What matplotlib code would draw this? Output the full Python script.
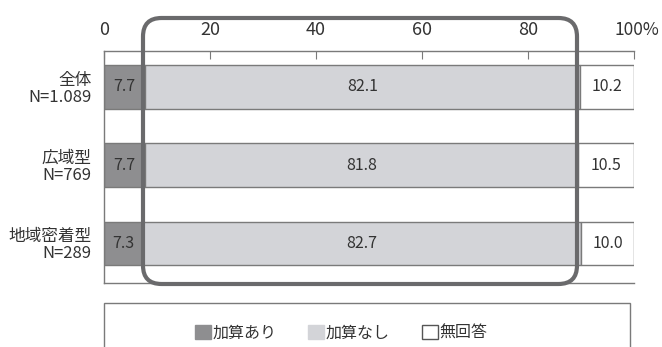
import matplotlib
matplotlib.use("Agg")
import matplotlib.pyplot as plt
import matplotlib.transforms as mtransforms
from matplotlib.patches import FancyBboxPatch, Rectangle, Patch

plt.rcParams['font.family'] = ['Noto Sans CJK JP', 'DejaVu Sans']

categories = ["全体\nN=1.089", "広域型\nN=769", "地域密着型\nN=289"]
series_names = ["加算あり", "加算なし", "無回答"]
with_add = [7.7, 7.7, 7.3]
without_add = [82.1, 81.8, 82.7]
no_answer = [10.2, 10.5, 10.0]
xticks = [0, 20, 40, 60, 80, 100]
xticklabels = ["0", "20", "40", "60", "80", "100%"]

colors = ["#8e8e90", "#d3d4d8", "#ffffff"]
edge = "#7a7a7a"
txt = "#333333"

W, H = 662, 347
fig = plt.figure(figsize=(W / 100, H / 100), dpi=100)
ax = fig.add_axes([104 / W, 1 - 283 / H, (634 - 104) / W, (283 - 51) / H])

ys = list(range(len(categories)))
h = 0.56
left = [0] * len(ys)
for vals, col in zip([with_add, without_add, no_answer], colors):
    ax.barh(ys, vals, left=left, height=h, color=col, edgecolor=edge, linewidth=1.0, zorder=2)
    for y, l, v in zip(ys, left, vals):
        ax.text(l + v / 2, y, f"{v:.1f}", ha="center", va="center", fontsize=11.5, color=txt, zorder=3)
    left = [a + b for a, b in zip(left, vals)]

ax.set_xlim(0, 100)
ax.set_ylim(2.505, -0.46)
ax.set_yticks(ys)
ax.set_yticklabels(categories, fontsize=12, color=txt, linespacing=1.0)
ax.tick_params(axis="y", length=0, pad=9)
for t in ax.get_yticklabels():
    t.set_ha("right")
ax.set_xticks(xticks)
ax.set_xticklabels(xticklabels[:-1] + [""], fontsize=13, color=txt)
ax.tick_params(axis="x", top=True, labeltop=True, bottom=False, labelbottom=False,
               direction="in", length=6, color=edge, pad=8.5)
# last tick label: shifted left so that it stays inside the figure
tr = mtransforms.offset_copy(ax.get_xaxis_transform(), fig=fig, x=-14, y=8.5, units="points")
ax.text(xticks[-1], 1, xticklabels[-1], transform=tr, ha="left", va="bottom",
        fontsize=12.5, color=txt, clip_on=False)
for s in ["top", "left", "bottom"]:
    ax.spines[s].set_color(edge)
    ax.spines[s].set_linewidth(1.0)
ax.spines["right"].set_visible(False)

# rounded highlight box
box = FancyBboxPatch((143 / W, 1 - 284 / H), (577 - 143) / W, (284 - 18) / H,
                     boxstyle="round,pad=0,rounding_size=0.028", transform=fig.transFigure,
                     fill=False, edgecolor="#6a6a6c", linewidth=3.0, zorder=5,
                     mutation_aspect=W / H)
fig.add_artist(box)

# legend frame (open at bottom)
lf = Rectangle((104 / W, -0.1), (630 - 104) / W, 0.1 + (347 - 303) / H,
               transform=fig.transFigure, fill=False, edgecolor=edge, linewidth=1.0)
fig.add_artist(lf)
handles = [Patch(facecolor=c, edgecolor=(c if i < 2 else "#555555"), linewidth=1.0)
           for i, c in enumerate(colors)]
fig.legend(handles, series_names, loc="center", bbox_to_anchor=(341 / W, 1 - 333 / H),
           ncol=3, frameon=False, fontsize=11.5, handlelength=1.0, handleheight=1.0,
           handletextpad=0.1, columnspacing=2.0, labelcolor=txt)

fig.savefig("out.png", dpi=100)
